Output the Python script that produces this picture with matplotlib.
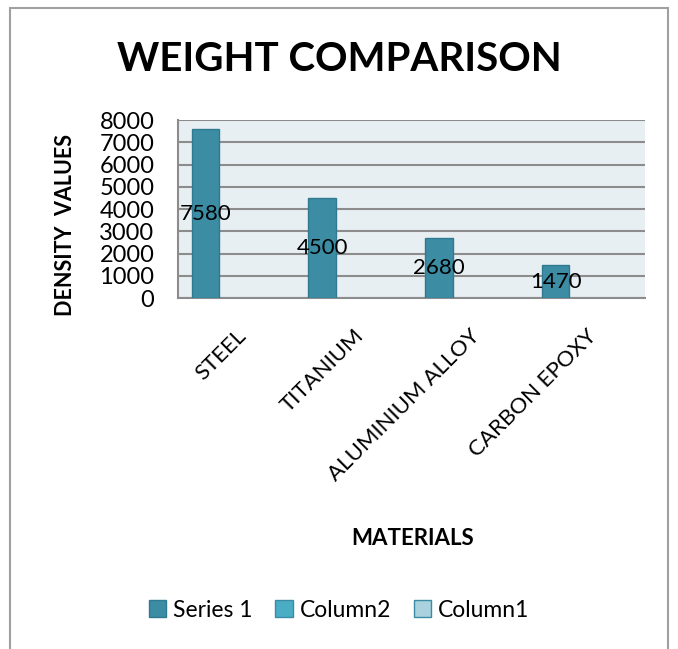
import matplotlib.pyplot as plt
import numpy as np
from matplotlib.patches import Rectangle, Patch

materials = ["STEEL", "TITANIUM", "ALUMINIUM ALLOY", "CARBON EPOXY"]
density = [7580, 4500, 2680, 1470]
yticks = [0, 1000, 2000, 3000, 4000, 5000, 6000, 7000, 8000]

plt.rcParams['font.family'] = ['Lato', 'DejaVu Sans']

fig = plt.figure(figsize=(6.78, 6.49), dpi=100)
fig.patches.append(Rectangle((10 / 678, -0.01), 658 / 678, 1 - 8 / 649 + 0.01,
                             transform=fig.transFigure, fill=False,
                             edgecolor="#a0a0a0", linewidth=1.5))

ax = fig.add_axes([0.2625, 0.5408, 0.689, 0.2743])
ax.set_facecolor("#e8eff3")

x = np.arange(len(materials))
ax.bar(x - 0.265, density, width=0.235, color="#3c8ca4", edgecolor="#2f7a90",
       linewidth=1, zorder=3)
for xi, v in zip(x, density):
    ax.text(xi - 0.265, v / 2, str(v), ha="center", va="center", fontsize=16,
            color="black", zorder=4)

ax.set_xlim(-0.5, 3.5)
ax.set_ylim(0, 8000)
ax.set_yticks(yticks)
ax.set_yticklabels([str(t) for t in yticks], fontsize=17)
ax.yaxis.grid(True, color="#8c8c8c", linewidth=1.5, zorder=1)
ax.tick_params(axis="y", length=0, pad=17)

ax.set_xticks(x)
ax.set_xticklabels(materials, rotation=45, ha="right", rotation_mode="anchor",
                   fontsize=16)
ax.tick_params(axis="x", length=0, pad=20)

for s in ["top", "right"]:
    ax.spines[s].set_visible(False)
for s in ["left", "bottom"]:
    ax.spines[s].set_color("#8c8c8c")
    ax.spines[s].set_linewidth(1.5)

fig.text(0.5, 0.908, "WEIGHT COMPARISON", ha="center", va="center",
         fontsize=29, fontweight="bold")
fig.text(0.096, 0.653, "DENSITY  VALUES", ha="center", va="center",
         rotation=90, fontsize=15.5, fontweight="bold")
fig.text(0.608, 0.171, "MATERIALS", ha="center", va="center",
         fontsize=16, fontweight="bold")

handles = [Patch(facecolor="#3c8ca4", edgecolor="#2f7a90", label="Series 1"),
           Patch(facecolor="#4bacc6", edgecolor="#3a8ba3", label="Column2"),
           Patch(facecolor="#a9d1de", edgecolor="#3a8ba3", label="Column1")]
fig.legend(handles=handles, loc="center", bbox_to_anchor=(0.5, 0.06), ncol=3,
           frameon=False, fontsize=16.5, handlelength=0.75, handleheight=0.75,
           handletextpad=0.3, columnspacing=1.0)

fig.savefig("out.png", dpi=100)
